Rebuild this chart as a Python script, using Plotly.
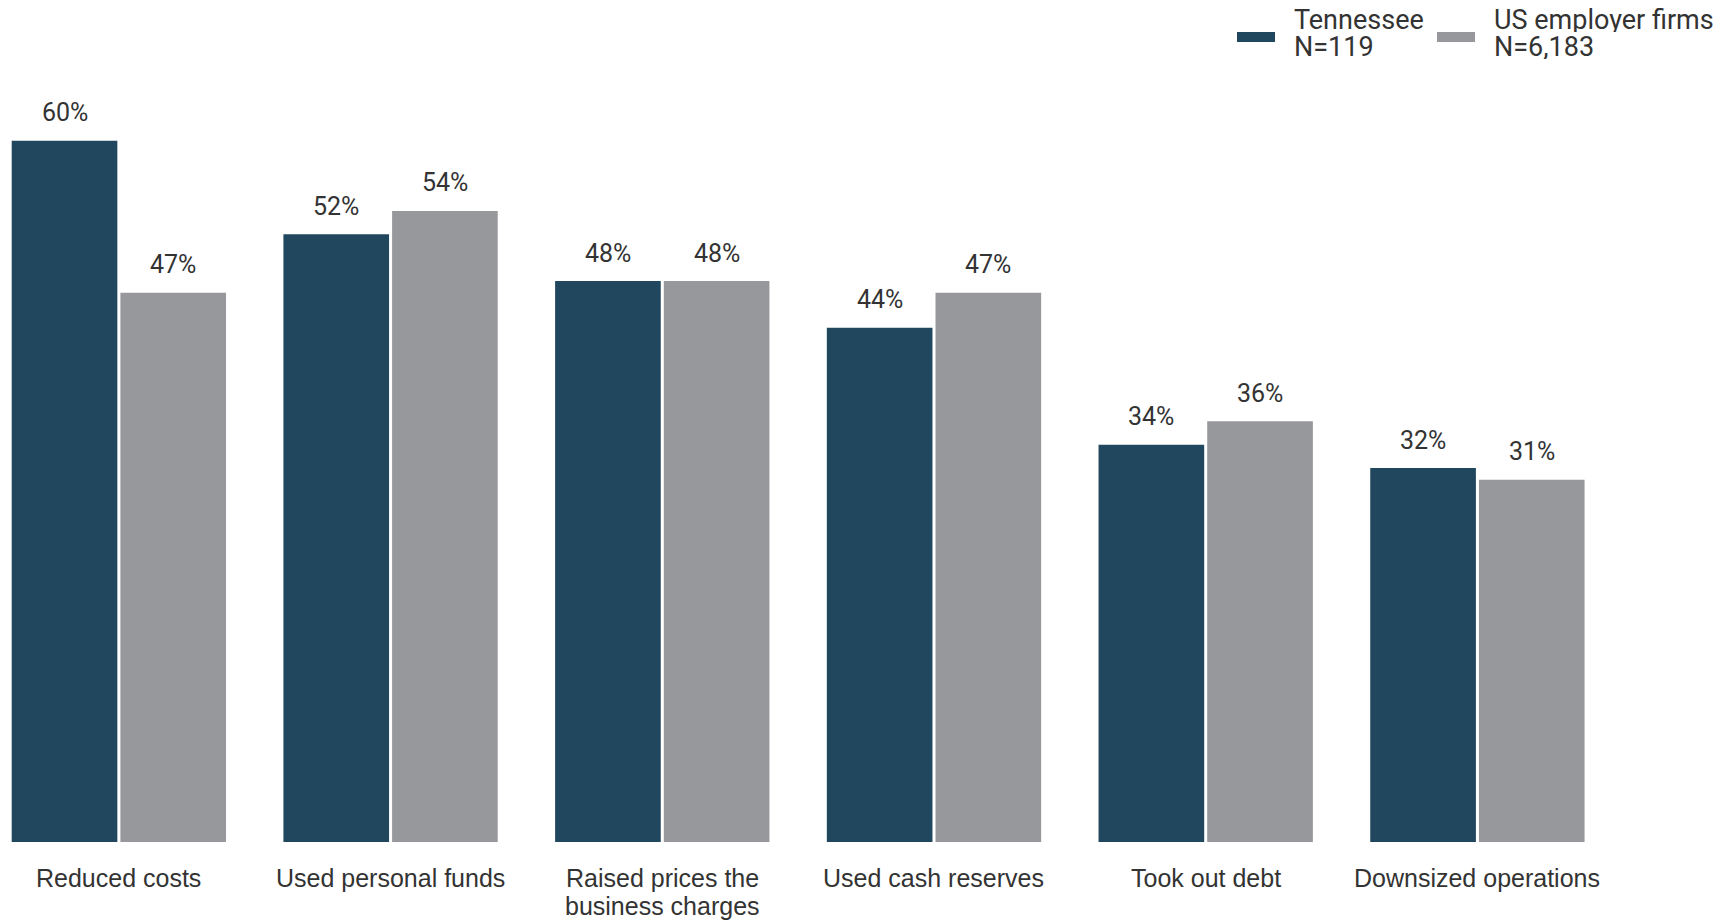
import plotly.graph_objects as go

categories = ["Reduced costs", "Used personal funds", "Raised prices the business charges",
              "Used cash reserves", "Took out debt", "Downsized operations"]
label_lines = [["Reduced costs"], ["Used personal funds"], ["Raised prices the", "business charges"],
               ["Used cash reserves"], ["Took out debt"], ["Downsized operations"]]
tennessee = [60, 52, 48, 44, 34, 32]
us_firms = [47, 54, 48, 47, 36, 31]
series_names = ["Tennessee", "US employer firms"]
series_n = ["N=119", "N=6,183"]
colors = ["#20475E", "#97989C"]

FONT = "Roboto"
CAT_FONT = "Liberation Sans"
TXT = "#333333"
W, H = 1724, 921
ML, MR, MT, MB = 0, 0, 72, 87
x_range = [-0.408, 5.937]
y_range = [0, 65.2]
bargap = 0.2
groupgap = 0.028
PW = W - ML - MR
PH = H - MT - MB

fig = go.Figure()
for name, vals, col in zip(series_names, [tennessee, us_firms], colors):
    fig.add_trace(go.Bar(
        x=categories, y=vals, name=name, marker_color=col,
        marker_line_width=0, showlegend=False, hoverinfo="skip"))

# value labels above bars
px_per_cat = PW / (x_range[1] - x_range[0])
slot = px_per_cat * (1 - bargap) / 2
for i, vals in enumerate([tennessee, us_firms]):
    shift = (-0.5 if i == 0 else 0.5) * slot
    for c, v in zip(categories, vals):
        fig.add_annotation(x=c, y=v, text=f"{v}%", showarrow=False,
                           xshift=shift, yshift=28, yanchor="middle",
                           font=dict(family=FONT, size=25, color=TXT))

# category labels (tight line spacing)
for c, lines in zip(categories, label_lines):
    for j, line in enumerate(lines):
        fig.add_annotation(x=c, y=0, text=line, showarrow=False,
                           yshift=-36 - 28 * j, yanchor="middle", xanchor="center",
                           font=dict(family=CAT_FONT, size=25, color=TXT))

# custom legend
leg_x = [1229, 1429]
def px_x(p):
    return (p - ML) / PW
def px_y(p):
    return (H - MB - p) / PH
for lx, name, n, col in zip(leg_x, series_names, series_n, colors):
    fig.add_shape(type="rect", xref="paper", yref="paper",
                  x0=px_x(lx), x1=px_x(lx + 38), y0=px_y(34), y1=px_y(24),
                  fillcolor=col, line_width=0)
    for j, t in enumerate([name, n]):
        fig.add_annotation(xref="paper", yref="paper", x=px_x(lx + 55), y=px_y(12 + 27.5 * j),
                           xanchor="left", yanchor="middle", align="left", valign="middle",
                           height=24, text=t, showarrow=False,
                           font=dict(family=FONT, size=27, color=TXT))

fig.update_layout(
    width=W, height=H,
    margin=dict(l=ML, r=MR, t=MT, b=MB),
    paper_bgcolor="white", plot_bgcolor="white",
    barmode="group", bargap=bargap, bargroupgap=groupgap,
    font=dict(family=FONT, size=22, color=TXT),
)
fig.update_xaxes(range=x_range, showticklabels=False,
                 showgrid=False, showline=False, zeroline=False, ticks="")
fig.update_yaxes(range=y_range, visible=False, showgrid=False, zeroline=False)

fig.write_html("out.html")
